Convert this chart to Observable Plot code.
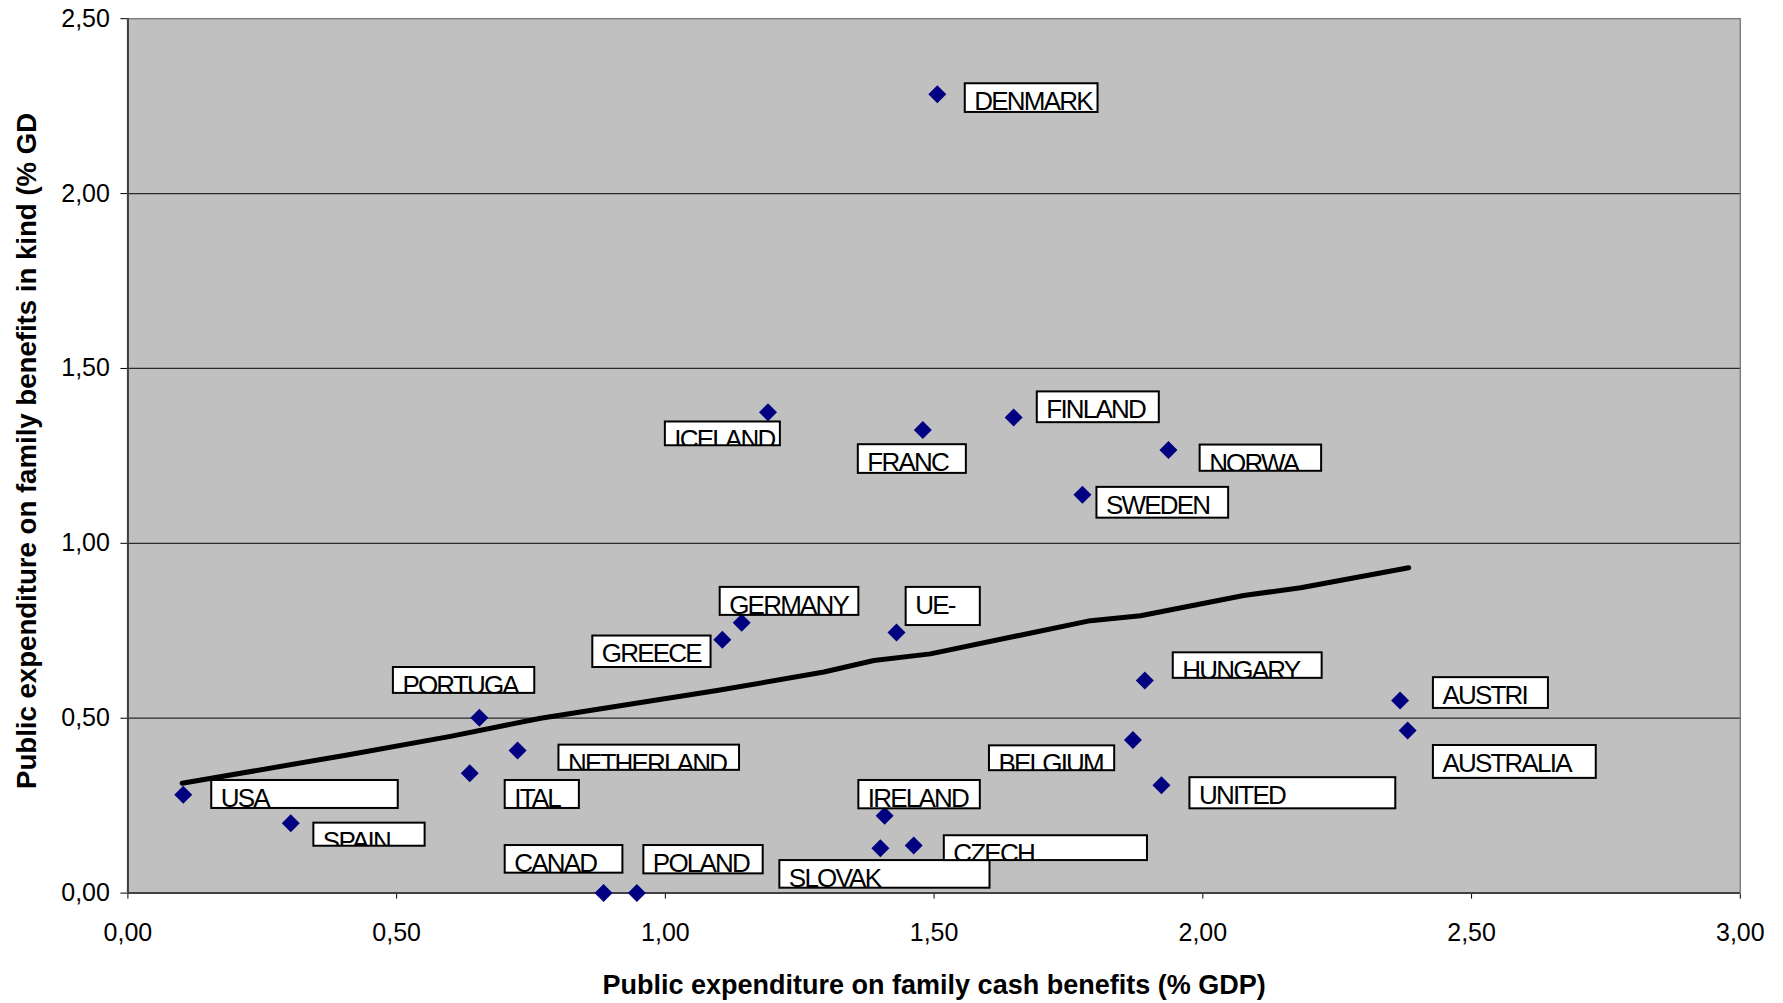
<!DOCTYPE html>
<html>
<head>
<meta charset="utf-8">
<script src="https://cdn.jsdelivr.net/npm/d3@7"></script>
<script src="https://cdn.jsdelivr.net/npm/@observablehq/plot@0.6"></script>
<style>
  html, body { margin: 0; padding: 0; background: #fff; }
  #chart svg { display: block; }
</style>
</head>
<body>
<div id="chart"></div>
<script>
// ---- Data ----
const countries = ["DENMARK","ICELAND","FRANC","FINLAND","NORWA","SWEDEN","GERMANY","GREECE","UE-","PORTUGA","HUNGARY","AUSTRI","AUSTRALIA","BELGIUM","UNITED","NETHERLAND","ITAL","USA","SPAIN","IRELAND","SLOVAK","CZECH","CANAD","POLAND"];
const cashBenefits = [1.506,1.191,1.479,1.648,1.936,1.776,1.142,1.106,1.430,0.654,1.892,2.367,2.381,1.870,1.923,0.725,0.636,0.103,0.303,1.408,1.400,1.462,0.885,0.947];
const inKindBenefits = [2.284,1.375,1.324,1.360,1.267,1.139,0.773,0.724,0.745,0.501,0.608,0.551,0.465,0.438,0.308,0.408,0.343,0.281,0.200,0.221,0.128,0.136,0.000,0.000];

// Data-label boxes (in data units, as placed in the original chart)
const labelX1 = [1.558,1.000,1.359,1.692,1.995,1.803,1.102,0.865,1.448,0.494,1.945,2.429,2.429,1.603,1.976,0.802,0.702,0.156,0.346,1.360,1.213,1.519,0.702,0.960];
const labelX2 = [1.805,1.214,1.560,1.919,2.221,2.048,1.360,1.085,1.586,0.757,2.222,2.643,2.732,1.836,2.359,1.138,0.840,0.503,0.553,1.586,1.604,1.897,0.921,1.182];
const labelYTop = [2.314,1.347,1.282,1.433,1.281,1.160,0.874,0.735,0.874,0.645,0.687,0.616,0.422,0.421,0.330,0.423,0.322,0.322,0.200,0.322,0.093,0.164,0.136,0.136];
const labelYBottom = [2.232,1.279,1.200,1.345,1.206,1.072,0.794,0.645,0.765,0.571,0.614,0.528,0.328,0.350,0.241,0.351,0.242,0.242,0.134,0.241,0.014,0.093,0.057,0.055];

// Trend line as drawn in the reference
const trendX = [0.101,0.408,0.600,0.768,1.096,1.295,1.388,1.493,1.791,1.884,2.076,2.182,2.383];
const trendY = [0.314,0.395,0.448,0.500,0.579,0.632,0.665,0.684,0.779,0.793,0.851,0.873,0.930];

const xTicks = [0,0.5,1,1.5,2,2.5,3];
const yTicks = [0,0.5,1,1.5,2,2.5];
const gridY = [0.5,1,1.5,2];
const xTitle = "Public expenditure on family cash benefits (% GDP)";
const yTitle = "Public expenditure on family benefits in kind (% GD";

// ---- Build tables ----
const points = countries.map((c, i) => ({name: c, x: cashBenefits[i], y: inKindBenefits[i]}));
const labels = countries.map((c, i) => ({name: c, x1: labelX1[i], x2: labelX2[i], y1: labelYBottom[i], y2: labelYTop[i]}));
const trend = trendX.map((x, i) => ({x, y: trendY[i]}));

const fmt = d => d.toFixed(2).replace(".", ",");
const FONT = "'Liberation Sans', Arial, Helvetica, sans-serif";

const diamond = {
  draw(context, size) {
    const r = Math.sqrt(size / Math.PI);
    context.moveTo(0, -r);
    context.lineTo(r, 0);
    context.lineTo(0, r);
    context.lineTo(-r, 0);
    context.closePath();
  }
};

const chart = Plot.plot({
  width: 1783,
  height: 1003,
  marginLeft: 127.4,
  marginRight: 43.2,
  marginTop: 18.2,
  marginBottom: 110.4,
  style: {fontFamily: FONT, fontSize: "25px", background: "#ffffff", color: "#000"},
  x: {domain: [0, 3], ticks: xTicks, tickFormat: fmt, tickSize: 6, tickPadding: 24, label: null},
  y: {domain: [0, 2.5], ticks: yTicks, tickFormat: fmt, tickSize: 7, tickPadding: 11, label: null},
  marks: [
    Plot.frame({fill: "#c0c0c0", stroke: "#808080", strokeWidth: 1.5}),
    Plot.ruleY(gridY, {stroke: "#2a2a2a", strokeWidth: 1.2}),
    Plot.ruleX([0], {stroke: "#404040", strokeWidth: 2}),
    Plot.ruleY([0], {stroke: "#404040", strokeWidth: 2}),
    Plot.line(trend, {x: "x", y: "y", stroke: "#000", strokeWidth: 5, strokeLinecap: "round", strokeLinejoin: "round"}),
    Plot.dot(points, {x: "x", y: "y", symbol: diamond, r: 9, fill: "#000080", stroke: "none"}),
    Plot.rect(labels, {x1: "x1", x2: "x2", y1: "y1", y2: "y2", fill: "#ffffff", stroke: "#000", strokeWidth: 2}),
    Plot.text(labels, {x: "x1", y: "y2", text: "name", textAnchor: "start", lineAnchor: "top", dx: 9, dy: 8, fontSize: 26, fill: "#000"}),
    Plot.text([xTitle], {frameAnchor: "bottom", textAnchor: "middle", dy: 101, fontSize: 27, fontWeight: "bold", fill: "#000"}),
    Plot.text([yTitle], {frameAnchor: "left", textAnchor: "middle", rotate: -90, dx: -101, dy: -5, fontSize: 27.6, fontWeight: "bold", fill: "#000"})
  ]
});

document.getElementById("chart").appendChild(chart);

// Clip each data label's text to its box, as in the original chart
const svgNode = chart.tagName.toLowerCase() === "svg" ? chart : chart.querySelector("svg");
const svg = d3.select(svgNode);
const defs = svg.insert("defs", ":first-child");
const n = countries.length;
const rectGroup = svg.selectAll("g[aria-label='rect']").nodes().find(g => g.querySelectorAll("rect").length === n);
const textGroup = svg.selectAll("g[aria-label='text']").nodes().find(g => g.querySelectorAll("text").length === n);
if (rectGroup && textGroup) {
  const boxes = Array.from(rectGroup.querySelectorAll("rect"));
  const texts = Array.from(textGroup.querySelectorAll("text"));
  const gm = textGroup.getCTM();
  texts.forEach((t, i) => {
    const b = boxes[i];
    if (!b) return;
    const bm = b.getCTM();
    const bx = +b.getAttribute("x"), by = +b.getAttribute("y");
    const bw = +b.getAttribute("width"), bh = +b.getAttribute("height");
    // box corners in the text group's coordinate system
    const x0 = bx + bm.e - gm.e, y0 = by + bm.f - gm.f;
    const id = "lblclip" + i;
    defs.append("clipPath").attr("id", id).attr("clipPathUnits", "userSpaceOnUse")
      .append("rect").attr("x", x0).attr("y", y0).attr("width", bw).attr("height", bh);
    const wrap = document.createElementNS("http://www.w3.org/2000/svg", "g");
    wrap.setAttribute("clip-path", `url(#${id})`);
    t.parentNode.insertBefore(wrap, t);
    wrap.appendChild(t);
    t.style.letterSpacing = "-1.8px";
  });
}
</script>
</body>
</html>
